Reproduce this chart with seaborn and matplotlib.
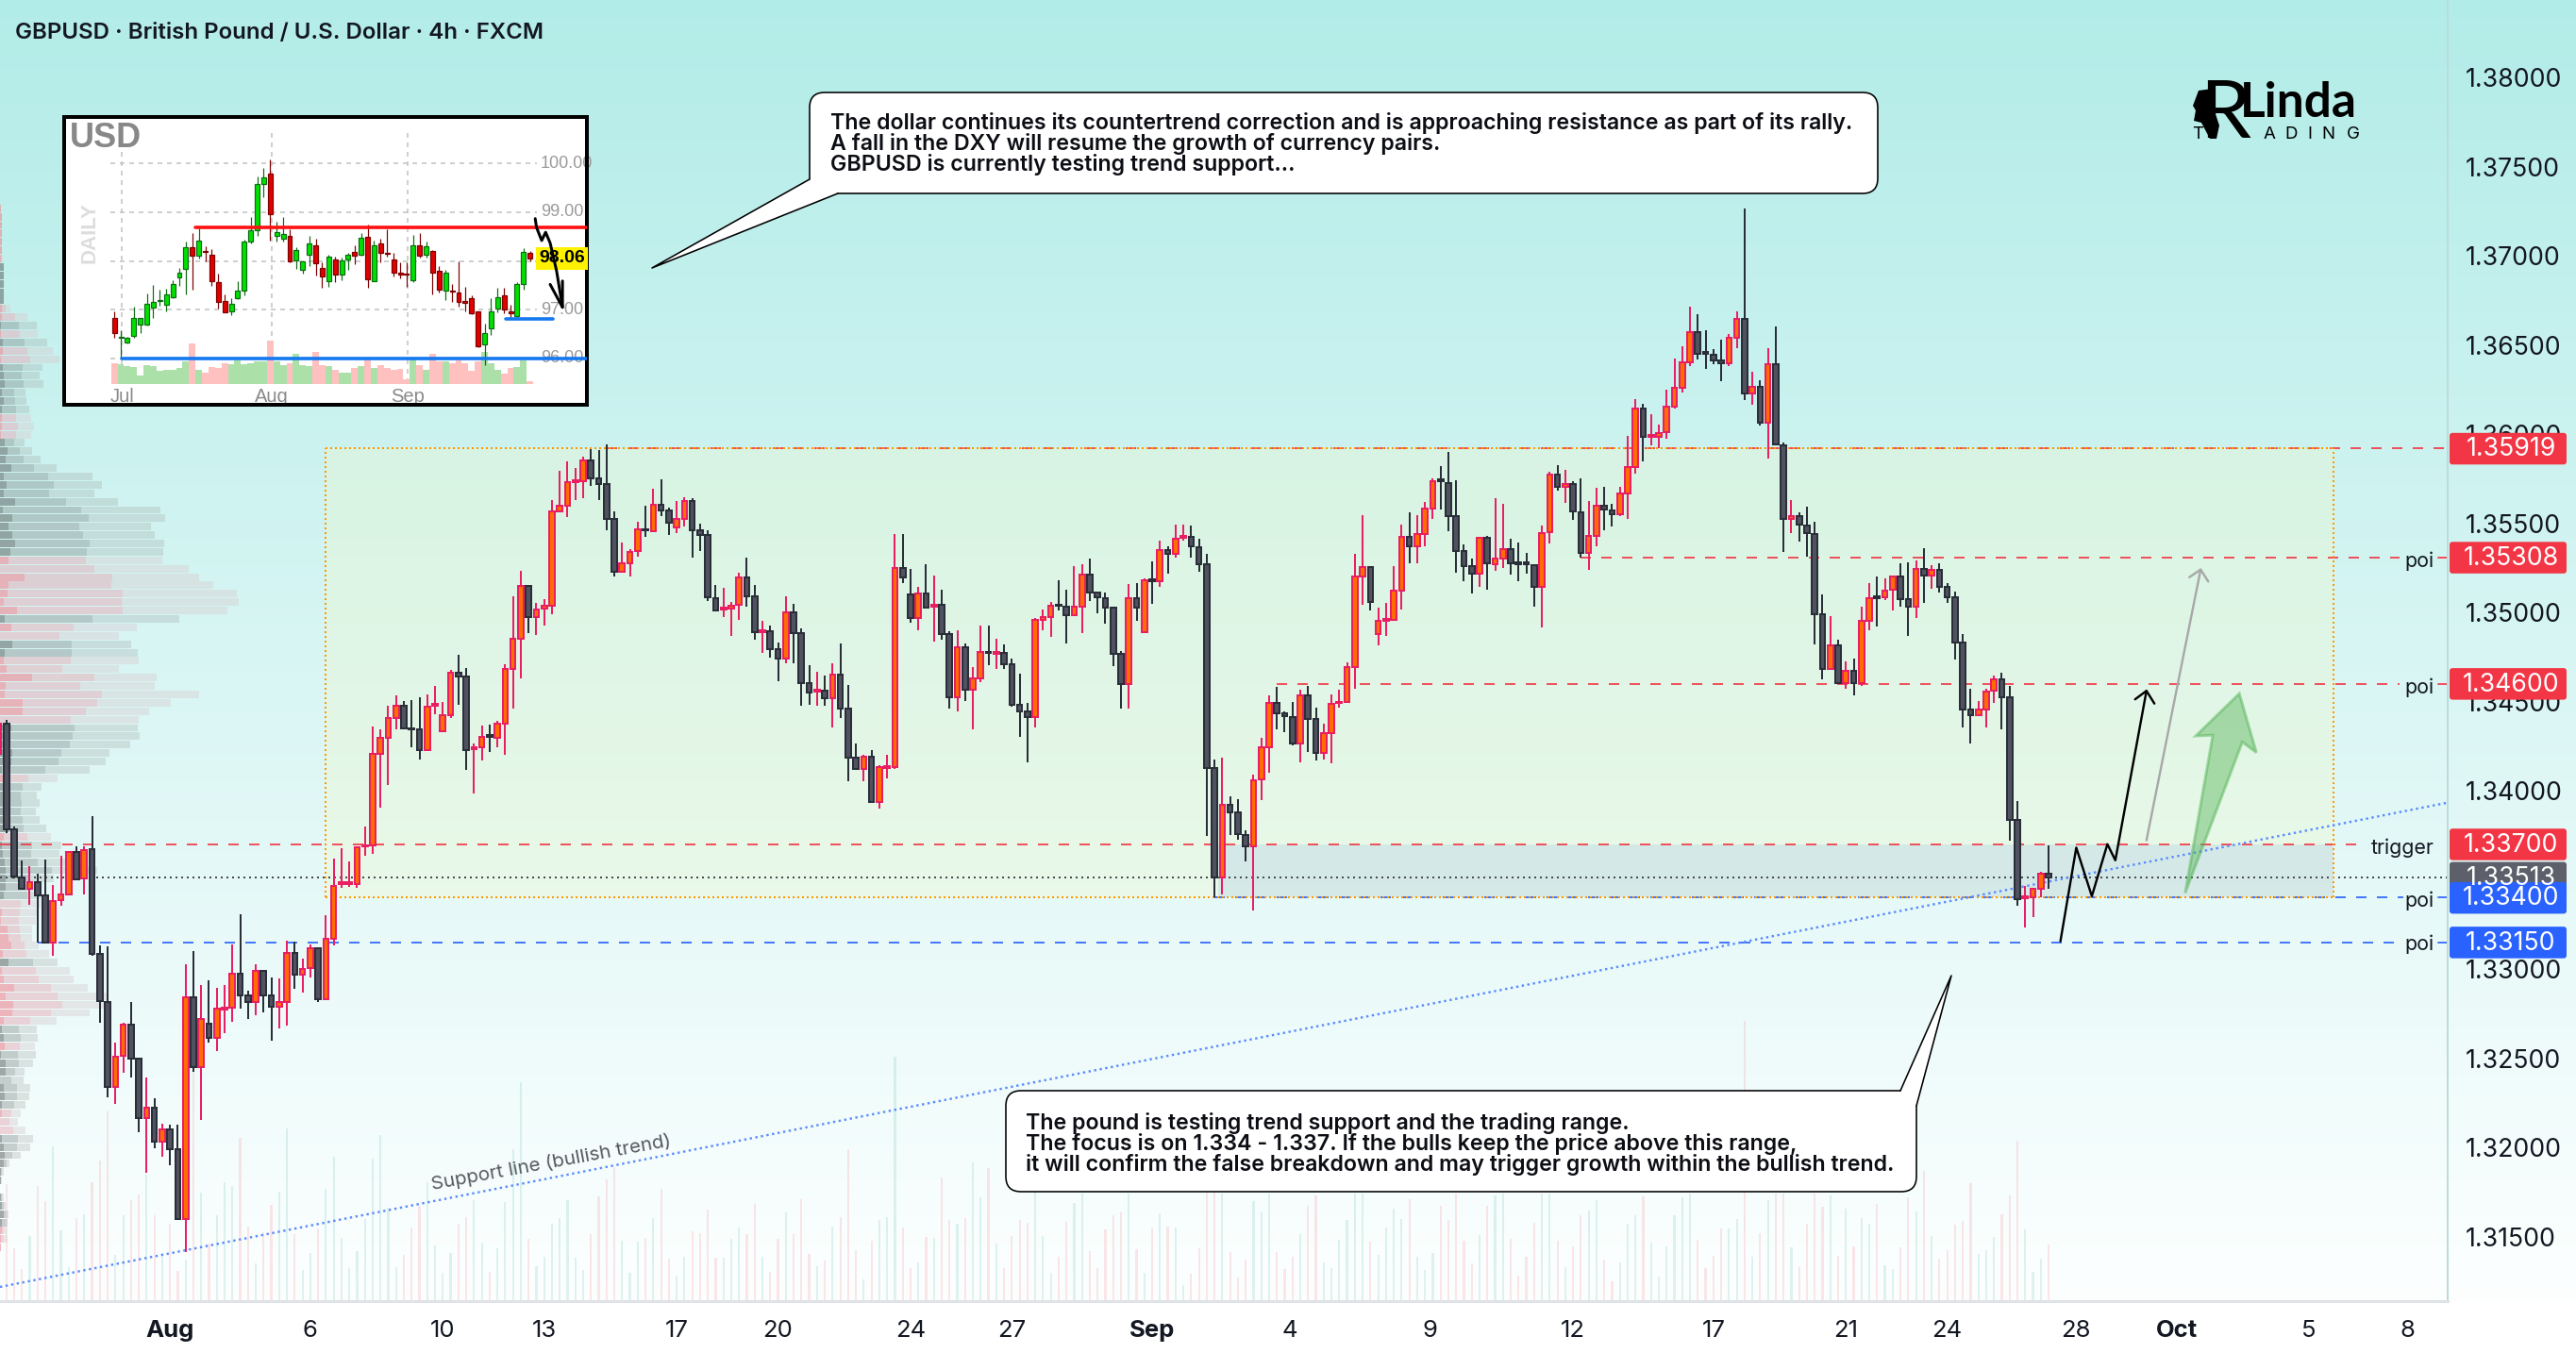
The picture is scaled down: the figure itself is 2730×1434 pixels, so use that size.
import numpy as np
import pandas as pd
import matplotlib
matplotlib.use("Agg")
import matplotlib.pyplot as plt
from matplotlib.patches import FancyBboxPatch, Polygon, Rectangle
import seaborn as sns

# ---- GBPUSD 4h candles, prices in points (1e-5), first bar index is -1 ----
opens = [
 134207,134374,133783,133515,133448,133488,133412,133150,133384,133420,
 133655,133506,133672,133083,132813,132340,132511,132687,132495,132165,
 132223,132030,132102,131990,131598,132840,132450,132692,132615,132775,
 132781,132972,132853,132817,132988,132853,132790,132817,133088,132966,
 133006,133115,132831,133170,133475,133475,133478,133687,133692,134207,
 134298,134410,134475,134350,134344,134228,134475,134335,134424,134660,
 134639,134232,134244,134310,134298,134378,134683,134850,135150,134974,
 135022,135036,135568,135598,135731,135738,135851,135750,135718,135524,
 135230,135277,135344,135468,135456,135605,135569,135474,135522,135624,
 135460,135432,135081,135015,135020,135041,135194,135088,134891,134893,
 134796,134740,134999,134882,134601,134556,134560,134519,134652,134461,
 134184,134120,134193,133935,134128,134133,135248,135099,134968,135108,
 135030,135040,134877,134523,134804,134567,134629,134780,134768,134771,
 134707,134479,134443,134412,134957,134971,135045,135033,134984,135031,
 135214,135110,135081,135026,134765,134596,135077,134889,135185,135175,
 135347,135327,135420,135421,135367,135268,134126,133514,133920,133876,
 133754,133687,134064,134244,134494,134432,134415,134264,134532,134401,
 134210,134325,134490,134497,134694,135202,135253,134878,134955,134957,
 135123,135421,135372,135441,135583,135746,135723,135540,135344,135259,
 135218,135417,135271,135303,135354,135278,135278,135263,135145,135449,
 135773,135702,135719,135561,135334,135429,135597,135571,135550,135668,
 135816,136142,135983,135986,136010,136154,136259,136403,136569,136458,
 136443,136413,136399,136541,136644,136229,136263,136065,136391,135939,
 135524,135538,135486,135439,134988,134680,134817,134605,134670,134601,
 134953,135088,135083,135125,135200,135075,135032,135243,135208,135239,
 135141,135083,134832,134455,134425,134457,134562,134623,134523,133836,
 133395,133404,133450,133534]
highs = [
 134400,134397,133801,133610,133578,133537,133614,133470,133636,133663,
 133686,133686,133859,133132,133128,132588,132700,132817,132498,132394,
 132273,132134,132129,132129,133029,133101,132912,132934,132894,132912,
 133137,133308,132880,133029,132997,132955,132948,133159,133155,133060,
 133137,133119,133303,133621,133677,133603,133690,133801,134360,134342,
 134476,134533,134505,134510,134524,134542,134589,134498,134679,134762,
 134688,134265,134365,134371,134392,134709,135092,135233,135150,135053,
 135075,135630,135794,135847,135807,135874,135918,135912,135944,135568,
 135394,135353,135508,135600,135694,135747,135585,135624,135645,135640,
 135496,135460,135154,135139,135059,135223,135307,135154,134953,134926,
 134831,135090,135048,134909,134704,134667,134647,134713,134826,134592,
 134264,134202,134228,134142,134202,135440,135440,135245,135141,135270,
 135206,135128,134895,134899,134826,134694,134926,134926,134853,134820,
 134742,134656,134492,134970,135017,135059,135181,135128,135259,135270,
 135303,135110,135112,135026,134784,135159,135164,135190,135287,135403,
 135369,135492,135492,135487,135414,135328,134173,134184,133969,133951,
 133778,134091,134297,134534,134583,134445,134498,134567,134589,134467,
 134376,134538,134568,134720,135328,135544,135261,135024,135054,135259,
 135490,135561,135544,135619,135753,135820,135901,135743,135382,135303,
 135425,135429,135638,135611,135415,135393,135334,135267,135486,135787,
 135828,135800,135733,135749,135627,135696,135702,135611,135706,135990,
 136196,136170,136113,136053,136249,136425,136494,136715,136672,136583,
 136476,136527,136559,136689,137262,136350,136304,136482,136604,135955,
 135632,135561,135595,135510,135101,134979,134848,134724,134740,135034,
 135162,135202,135192,135206,135273,135281,135293,135362,135267,135277,
 135162,135119,134876,134572,134501,134572,134645,134663,134588,133940,
 133465,133450,133547,133692]
lows = [
 134190,133760,133510,133448,133362,133150,133146,133074,133353,133416,
 133497,133416,133074,132696,132282,132242,132417,132390,132084,131859,
 131994,131949,131899,131594,131414,132422,132156,132588,132540,132642,
 132705,132777,132721,132741,132756,132597,132665,132682,132890,132867,
 132952,132813,132827,133132,133453,133460,133453,133633,133647,133907,
 134030,134342,134342,134242,134177,134224,134427,134330,134406,134480,
 134118,133986,134171,134215,134242,134203,134462,134630,134882,134872,
 134925,134992,135560,135533,135632,135639,135710,135630,135459,135203,
 135230,135200,135313,135424,135456,135538,135436,135445,135482,135308,
 135345,135066,135008,134975,134866,134959,135031,134848,134775,134744,
 134616,134716,134716,134474,134479,134474,134474,134352,134410,134055,
 134115,134055,133929,133902,134069,134124,135166,134944,134898,135026,
 134838,134844,134458,134443,134501,134346,134611,134702,134680,134683,
 134470,134304,134161,134357,134902,134860,135008,134827,134977,134886,
 135066,134997,134939,134696,134461,134461,134953,134889,135050,135144,
 135217,135308,135400,135308,135225,133747,133404,133419,133751,133723,
 133605,133328,133947,134100,134345,134328,134252,134161,134219,134170,
 134174,134153,134463,134497,134574,135044,135008,134817,134870,134951,
 135018,135277,135273,135372,135526,135575,135457,135220,135176,135105,
 135145,135125,135231,135251,135212,135176,135216,135034,134913,135388,
 135680,135615,135520,135307,135237,135372,135459,135484,135540,135526,
 135779,135844,135939,135919,135976,136142,136235,136381,136417,136367,
 136389,136294,136381,136482,136192,136162,136047,135860,135939,135338,
 135443,135399,135311,134822,134627,134676,134599,134574,134534,134589,
 134898,134919,135071,135008,135030,134866,134967,135054,135131,135109,
 135052,134734,134356,134263,134421,134352,134491,134342,133718,133357,
 133234,133292,133400,133448]
closes = [
 134374,133783,133519,133452,133488,133412,133150,133380,133416,133655,
 133502,133668,133087,132819,132340,132507,132687,132495,132165,132223,
 132030,132102,131990,131598,132840,132450,132718,132615,132777,132785,
 132972,132853,132817,132988,132853,132790,132813,133088,132966,133002,
 133115,132831,133168,133465,133485,133485,133681,133695,134205,134295,
 134406,134475,134348,134342,134228,134471,134485,134422,134660,134642,
 134228,134242,134304,134300,134374,134681,134850,135150,134974,135018,
 135035,135565,135597,135729,135740,135851,135754,135720,135524,135230,
 135274,135341,135464,135460,135605,135574,135505,135522,135624,135460,
 135432,135084,135013,135025,135039,135194,135088,134888,134900,134796,
 134740,134999,134882,134601,134552,134566,134516,134652,134461,134184,
 134120,134193,133935,134130,134138,135248,135195,134968,135108,135026,
 135040,134877,134523,134804,134567,134629,134780,134771,134778,134707,
 134481,134443,134412,134957,134971,135039,135037,134984,135030,135214,
 135110,135084,135026,134765,134596,135077,135026,135179,135175,135347,
 135327,135412,135430,135368,135268,134126,133514,133920,133878,133758,
 133687,134060,134241,134494,134432,134417,134264,134532,134401,134212,
 134325,134487,134500,134694,135202,135253,135058,134953,134965,135121,
 135423,135372,135437,135581,135733,135736,135540,135344,135261,135218,
 135417,135273,135299,135354,135273,135268,135268,135145,135445,135773,
 135702,135719,135565,135334,135429,135597,135575,135550,135666,135814,
 136142,135986,135993,136006,136152,136257,136401,136569,136452,136448,
 136413,136399,136539,136644,136229,136263,136065,136391,135943,135524,
 135540,135490,135443,134990,134680,134817,134605,134670,134601,134951,
 135077,135078,135121,135200,135075,135032,135243,135208,135239,135141,
 135085,134832,134457,134425,134455,134558,134623,134524,133836,133393,
 133405,133448,133534,133513]
volumes = [
 0,372,167,102,207,367,319,492,224,107,264,277,379,447,602,147,274,322,340,402,
 272,152,247,97,132,732,345,182,274,379,367,520,238,120,220,307,349,550,212,100,
 154,230,358,460,202,106,160,262,454,529,297,108,147,234,304,377,177,89,154,247,
 267,322,187,92,168,314,482,697,199,112,142,247,265,322,139,100,214,334,387,427,
 192,90,190,202,265,357,135,82,142,222,217,292,139,139,199,234,212,310,142,94,
 197,282,214,325,150,112,130,237,267,482,162,70,192,259,267,777,234,104,124,204,
 200,392,257,245,264,442,330,422,184,104,207,258,250,352,207,89,142,252,312,342,
 160,104,227,272,282,342,165,90,234,280,237,235,52,87,167,352,352,342,157,76,
 132,317,282,342,157,102,142,214,302,337,124,106,195,258,342,342,190,147,234,294,
 262,325,142,99,154,302,257,342,192,120,211,304,337,342,197,82,142,250,342,342,
 192,109,175,272,289,322,132,64,124,247,272,332,187,79,175,274,329,342,196,105,
 144,232,232,262,892,142,217,322,342,342,170,112,247,342,299,337,145,294,175,264,
 247,310,115,102,172,329,284,414,207,136,162,242,254,375,150,162,204,277,337,509,
 227,94,136,180]

# ---- Volume profile rows, top to bottom ----
profile_side = ("pppppp" "pggggg" "ppgpgppggggggppp" "gggggggggggggg" "pppppppgpp" "gg" "ppppppp"
                "p" "gggggg" "p" "gggggg" "p" "ggggggg" "ppppppp" "g" "ppppppp" "gg" "p"
                "ggggggg" "ppp" "ggggggggggg" "ppp")
profile_dark = [
 3,6,6,6,6,6, 3,12,12,12,12,12, 6,6,3,3,9,9,3,9,12,15,6,12,6,6,6,3,15,24,18,36,12,21,12,48,9,39,27,39,48,33,
 27,0,78,27,24,12,54,15,36,0,39,15,12,21,102,18,15,72,72,
 0,36,33,30,39,36,6,33,12,27,27,21,24,27,12,6,9,15,18,18,18,12,0,6,3,24,27,36,9,27,6,12,45,18,42,39,12,
 6,12,15,3,18,18,0,12,15,6,6,0,0,6,12,15,12,3,3,0,3,6,12,6,6,3,3]
profile_mid = [
 3,6,6,6,6,6, 6,12,12,12,12,12, 18,48,60,63,78,87,96,72,69,75,45,48,51,51,57,51,45,63,75,108,153,171,156,210,258,282,252,264,285,276,
 273,300,357,354,390,387,390,294,234,189,228,228,225,198,300,255,324,309,273,
 225,237,231,222,195,186,144,90,72,66,69,66,72,75,87,102,99,120,165,90,90,87,66,63,60,63,66,78,84,105,114,123,162,183,198,162,96,
 60,66,63,57,60,48,36,54,54,45,36,30,42,57,54,39,21,6,3,0,6,12,18,18,12,12,3]
profile_total = [
 3,6,6,6,6,6, 9,12,12,12,12,12, 33,87,117,120,150,168,189,135,126,138,81,84,93,99,108,99,78,102,129,180,294,324,300,375,510,525,480,492,522,519,
 516,600,633,678,753,759,723,570,435,378,417,438,441,378,498,492,633,543,474,
 441,438,444,414,348,336,285,183,132,117,126,114,126,147,162,195,189,207,309,170,130,130,130,120,115,102,102,123,156,183,222,234,279,345,345,285,180,
 117,120,111,114,105,78,75,96,93,81,66,57,81,105,96,66,30,12,6,0,12,18,27,24,21,24,3]

# ---- Horizontal levels: price, first bar, last bar, colour ----
level_prices = [1.35919, 1.35308, 1.34600, 1.33700, 1.33400, 1.33150]
level_starts = [77, 202, 163, -0.8, 155, 4]
level_ends = [313.2, 307, 307, 301.4, 307.5, 306.5]
level_colors = ["#f23645", "#f23645", "#f23645", "#f23645", "#2962ff", "#2962ff"]
last_price = 1.33513

price_ticks = [1.38, 1.375, 1.37, 1.365, 1.36, 1.355, 1.35, 1.345, 1.34, 1.335, 1.33, 1.325, 1.32, 1.315]
date_ticks = [21, 39, 56, 69, 86, 99, 116, 129, 147, 164.7, 182.6, 201, 219, 236, 249, 265.5, 278.5, 295.4, 308]
date_labels = ["Aug", "6", "10", "13", "17", "20", "24", "27", "Sep", "4", "9", "12", "17", "21", "24", "28", "Oct", "5", "8"]

# ---- DXY daily inset ----
usd_open = [96.83,96.43,96.32,96.47,96.70,96.69,97.05,97.18,97.10,97.26,97.67,97.83,98.29,98.10,98.20,98.13,97.56,97.18,96.96,97.23,
            97.39,98.39,98.63,99.59,99.79,98.52,98.45,98.52,98.02,97.82,98.12,98.32,97.86,97.59,98.03,97.73,98.03,98.19,98.12,98.50,
            97.59,98.36,98.17,98.03,97.77,97.74,97.61,98.32,98.12,98.21,97.79,97.39,97.40,97.36,97.17,97.23,96.96,96.29,96.61,97.02,
            97.29,96.96,96.87,97.53,98.16]
usd_high = [96.97,96.57,96.45,97.07,96.83,97.34,97.50,97.42,97.43,97.61,97.85,98.40,98.58,98.68,98.30,98.24,97.74,97.32,97.23,97.58,
            98.43,98.90,99.74,99.90,100.08,98.81,98.90,98.65,98.29,98.00,98.52,98.46,97.97,98.13,98.08,98.07,98.16,98.32,98.58,98.74,
            98.42,98.45,98.65,98.16,97.97,97.97,98.54,98.57,98.40,98.23,97.90,97.81,97.52,98.00,97.47,97.30,96.97,96.71,97.24,97.45,
            97.45,97.10,97.56,98.27,98.21]
usd_low = [96.42,96.00,96.31,96.42,96.52,96.68,96.84,97.08,96.96,97.24,97.48,97.31,97.41,98.06,98.00,97.48,97.03,96.94,96.88,97.21,
           97.29,98.36,98.52,99.30,98.42,98.39,98.40,97.97,97.84,97.74,97.90,97.71,97.45,97.47,97.57,97.60,97.81,97.94,98.10,97.45,
           97.58,97.98,98.08,97.68,97.65,97.47,97.57,98.07,98.07,97.32,97.36,97.19,97.16,97.07,96.97,96.90,96.23,95.86,96.48,96.94,
           96.92,96.84,96.84,97.42,98.00]
usd_close = [96.52,96.45,96.42,96.83,96.83,97.13,97.16,97.20,97.32,97.52,97.76,98.29,98.10,98.42,98.18,97.58,97.16,96.95,97.13,97.39,
             98.39,98.63,99.58,99.72,98.96,98.59,98.56,97.99,98.23,97.99,98.36,97.95,97.69,98.08,97.73,98.02,98.13,98.10,98.48,97.63,
             98.32,98.16,98.15,97.76,97.72,97.72,98.32,98.10,98.30,97.76,97.41,97.76,97.38,97.16,97.15,96.92,96.25,96.52,96.96,97.26,
             97.00,96.93,97.53,98.19,98.06]
usd_volume = [65,62,55,52,25,60,55,40,43,43,50,70,127,45,35,52,50,65,62,75,
              63,65,72,70,137,70,60,65,95,58,55,102,60,55,43,35,35,50,55,82,
              50,60,50,45,48,15,82,60,43,95,70,70,65,75,65,40,70,100,65,43,
              33,50,52,75,8]
usd_ticks = [100, 99, 98, 97, 96]
usd_month_bars = [1.2, 24.2, 45.2]
usd_month_labels = ["Jul", "Aug", "Sep"]
usd_resistance = 98.69
usd_support = 96.0
usd_minor_support = 96.82

W, H = 2730, 1434
PLOT_RIGHT, PLOT_BOTTOM = 2594, 1379
PX = 0.72  # one output pixel in points at 100 dpi

sns.set_theme(style="white")
plt.rcParams["font.family"] = ["Inter", "DejaVu Sans"]
plt.rcParams["lines.scale_dashes"] = False
plt.rcParams["lines.dash_capstyle"] = "butt"

INK = "#131722"
fig = plt.figure(figsize=(W / 100, H / 100), dpi=100, facecolor="white")


def rect_of(x0, y0, x1, y1):
    return [x0 / W, 1 - y1 / H, (x1 - x0) / W, (y1 - y0) / H]


# Page background: pale teal fading to white over the chart pane
bg_ax = fig.add_axes([0, 0, 1, 1], zorder=0)
top_c, bot_c = np.array([178, 236, 232]), np.array([253, 255, 255])
rows = np.ones((H, 1, 3))
t = np.clip(np.arange(H) / PLOT_BOTTOM, 0, 1)[:, None]
rows[:, 0, :] = (top_c + (bot_c - top_c) * t) / 255
rows[PLOT_BOTTOM:, 0, :] = 1
bg_ax.imshow(rows, aspect="auto", extent=(0, W, H, 0))
bg_ax.axis("off")

xlim = (-0.811, 313.2)
ylim = (1.311376, 1.384339)
pane = rect_of(0, 0, PLOT_RIGHT, PLOT_BOTTOM)

bars = np.arange(-1, len(closes) - 1)
o, h, l, c = [np.array(a) / 1e5 for a in (opens, highs, lows, closes)]
rising = c >= o

# Volume histogram along the floor of the pane
vol_ax = fig.add_axes(pane, zorder=1, facecolor="none")
vol_df = pd.DataFrame({"bar": bars, "volume": volumes,
                       "side": np.where(rising, "up", "down")})
sns.barplot(data=vol_df, x="bar", y="volume", hue="side", hue_order=["up", "down"],
            palette={"up": "#089981", "down": "#f23645"}, native_scale=True, dodge=False,
            width=0.26, saturation=1, alpha=0.12, linewidth=0, legend=False, ax=vol_ax)
vol_ax.set_xlim(*xlim)
vol_ax.set_ylim(0, PLOT_BOTTOM * 3)
vol_ax.axis("off")

# Visible-range volume profile on the left edge
prof_ax = fig.add_axes(pane, zorder=2, facecolor="none")
row_price = 1.37266 - np.arange(len(profile_total)) * 0.00047
side = np.array(list(profile_side))[:len(profile_total)]
tones = {"g": [("#687270", .6), ("#848e8c", .42), ("#a0a39e", .27)],
         "p": [("#ee8f9a", .65), ("#e5b2bc", .55), ("#d9cfd2", .45)]}
d_, m_, t_ = map(np.array, (profile_dark, profile_mid, profile_total))
for key in ("g", "p"):
    mask = side == key
    (c1, a1), (c2, a2), (c3, a3) = tones[key]
    prof_ax.barh(row_price[mask], d_[mask], height=0.00042, color=c1, alpha=a1, linewidth=0)
    prof_ax.barh(row_price[mask], m_[mask] - d_[mask], left=d_[mask], height=0.00042, color=c2, alpha=a2, linewidth=0)
    prof_ax.barh(row_price[mask], t_[mask] - m_[mask], left=m_[mask], height=0.00042, color=c3, alpha=a3, linewidth=0)
prof_ax.set_xlim(0, PLOT_RIGHT * 3)
prof_ax.set_ylim(*ylim)
prof_ax.axis("off")

# Main price pane
ax = fig.add_axes(pane, zorder=3, facecolor="none")
ax.set_xlim(*xlim)
ax.set_ylim(*ylim)

box_left, box_right = 40.9, 298.5
ax.add_patch(Rectangle((box_left, 1.334), box_right - box_left, 1.35919 - 1.334,
                       facecolor=(244/255, 248/255, 198/255, .3), edgecolor="none", zorder=1))
ax.add_patch(Rectangle((155.5, 1.334), box_right - 155.5, 0.003,
                       facecolor=(167/255, 200/255, 230/255, .3), edgecolor="none", zorder=1.1))

for p, x0, x1, col in zip(level_prices, level_starts, level_ends, level_colors):
    ax.plot([x0, x1], [p, p], color=col, alpha=.85, lw=2 * PX,
            ls=(0, (11 * PX, 11 * PX)), zorder=2)
    if 305 < x1 < 309:
        ax.plot([312, 313.2], [p, p], color=col, alpha=.85, lw=2 * PX, zorder=2)
ax.plot(xlim, [last_price, last_price], color="#4a4a50", lw=2 * PX,
        ls=(0, (2 * PX, 4 * PX)), zorder=2)

orange_dots = (0, (2 * PX, 3 * PX))
for xs, ys in (([box_left, box_right], [1.35919, 1.35919]), ([box_left, box_right], [1.334, 1.334]),
               ([box_left, box_left], [1.334, 1.35919]), ([box_right, box_right], [1.334, 1.35919])):
    ax.plot(xs, ys, color="#ff9800", lw=2 * PX, ls=orange_dots, zorder=2.1)

# Rising support line
ax.plot(xlim, [1.31217, 1.33933], color="#5b8cff", lw=2.4 * PX, ls=(0, (2.4 * PX, 3.6 * PX)), zorder=2.2)

for mask, edge, fill in ((rising, "#e91e63", "#ff6d00"), (~rising, "#2a2e39", "#50535f")):
    ax.vlines(bars[mask], l[mask], h[mask], color=edge, lw=2 * PX, zorder=3)
    ax.bar(bars[mask], (c - o)[mask], bottom=o[mask], width=0.68, color=fill,
           edgecolor=edge, linewidth=2 * PX, zorder=4)

ax.yaxis.tick_right()
ax.set_yticks(price_ticks)
ax.set_yticklabels([f"{p:.5f}" for p in price_ticks])
ax.set_xticks(date_ticks)
ax.set_xticklabels(date_labels)
ax.tick_params(axis="y", length=0, labelsize=19.2, pad=13.5, labelcolor=INK)
ax.tick_params(axis="x", length=0, labelsize=18.5, pad=14.5, labelcolor=INK)
for lab in ax.get_xticklabels():
    if lab.get_text() in ("Aug", "Sep", "Oct"):
        lab.set_fontweight("bold")
for name, spine in ax.spines.items():
    spine.set_visible(name in ("right", "bottom"))
ax.spines["right"].set_color("#bcdcd9")
ax.spines["right"].set_linewidth(2 * PX)
ax.spines["bottom"].set_color("#dfe2e6")
ax.spines["bottom"].set_linewidth(3 * PX)

# Overlay in output pixels for drawings, notes and price tags
ov = fig.add_axes([0, 0, 1, 1], zorder=4, facecolor="none")
ov.set_xlim(0, W)
ov.set_ylim(H, 0)
ov.axis("off")


def price_y(price):
    return H - ax.transData.transform((0, price))[1]


ov.text(16, 35, "GBPUSD · British Pound / U.S. Dollar · 4h · FXCM", fontsize=17.3,
        fontweight=600, color=INK, va="center", ha="left")

tag_text = ["1.35919", "1.35308", "1.34600", "1.33700", "1.33513", "1.33400", "1.33150"]
tag_vals = [1.35919, 1.35308, 1.34600, 1.33700, 1.33513, 1.33400, 1.33150]
tag_cols = ["#f23645", "#f23645", "#f23645", "#f23645", "#5d606b", "#2962ff", "#2962ff"]
for txt, val, col in zip(tag_text, tag_vals, tag_cols):
    y = price_y(val)
    ov.add_patch(FancyBboxPatch((2596, y - 16.5), 124, 33.5, boxstyle="round,pad=0,rounding_size=3",
                                facecolor=col, edgecolor="none", zorder=5))
    ov.text(2661, y + 1, txt, color="white", fontsize=19.2, ha="center", va="center", zorder=6)

for txt, val, off in (("poi", 1.35308, 4), ("poi", 1.346, 4), ("trigger", 1.337, 4),
                      ("poi", 1.334, 3), ("poi", 1.3315, 2)):
    ov.text(2580, price_y(val) + off, txt, fontsize=15.4, color=INK, ha="right", va="center")

ov.text(584, 1232, "Support line (bullish trend)", fontsize=14.8, color="#555a60", rotation=10.4,
        rotation_mode="anchor", ha="center", va="center")

# Projected path and arrows
ov.plot([2183.6, 2200.4, 2216.9, 2233.4, 2241.8, 2274.8], [997.6, 898.4, 949.8, 894.7, 911.8, 732.2],
        color="black", lw=2.4 * PX)
ov.plot([2262.7, 2274.8, 2283.2], [741.2, 732.2, 745.7], color="black", lw=2.4 * PX)
ov.plot([2274.8, 2332.2], [890.6, 603.7], color="#a8a8a8", lw=2.4 * PX)
ov.plot([2320.2, 2332.2, 2340.3], [611.8, 603.7, 616.3], color="#a8a8a8", lw=2.4 * PX)
ov.add_patch(Polygon([(2315.8, 946.5), (2345.1, 779.2), (2327, 780), (2373.2, 735.1), (2391.3, 797.6), (2376.4, 786.5)],
                     closed=True, facecolor=(0.30, 0.69, 0.31, .42), edgecolor=(0.30, 0.69, 0.31, .45), lw=3 * PX))


def callout(x0, y0, x1, y1, tip, base_a, base_b, lines, tx, ty, dy):
    ov.add_patch(FancyBboxPatch((x0, y0), x1 - x0, y1 - y0, boxstyle="round,pad=0,rounding_size=16",
                                facecolor="white", edgecolor="black", lw=1.6 * PX, zorder=7))
    ov.add_patch(Polygon([base_a, tip, base_b], closed=True, facecolor="white", edgecolor="none", zorder=7.1))
    ov.plot([base_a[0], tip[0], base_b[0]], [base_a[1], tip[1], base_b[1]], color="black", lw=1.6 * PX, zorder=7.2)
    for i, line in enumerate(lines):
        ov.text(tx, ty + i * dy, line, fontsize=16.7, fontweight=600, color="#0c0e14", va="center", zorder=8)


callout(858, 98, 1990, 205, (691, 284), (888, 205), (858, 190),
        ["The dollar continues its countertrend correction and is approaching resistance as part of its rally.",
         "A fall in the DXY will resume the growth of currency pairs.",
         "GBPUSD is currently testing trend support..."], 880, 131, 21.6)
callout(1066, 1156, 2031, 1263, (2068, 1034), (2014, 1156), (2031, 1172),
        ["The pound is testing trend support and the trading range.",
         "The focus is on 1.334 - 1.337. If the bulls keep the price above this range,",
         "it will confirm the false breakdown and may trigger growth within the bullish trend."], 1087, 1190, 22.3)

# Brand mark
ov.text(2331, 146, "R", fontsize=62, color="black", ha="left", va="baseline", family="Lato")
ov.text(2374, 124, "Linda", fontsize=37, fontweight="bold", color="black", ha="left", va="baseline", family="Lato")
ov.add_patch(Polygon([(2330, 96), (2324, 112), (2327, 117), (2325, 128), (2333, 130), (2342, 147),
                      (2349, 147), (2352, 133), (2345, 112), (2345, 94)], closed=True, facecolor="black", edgecolor="none"))
for letter, lx in zip("TADING", (2323, 2399, 2421, 2445, 2460, 2487)):
    ov.text(lx, 147, letter, fontsize=13.5, color="black", ha="left", va="baseline")

# Daily dollar-index inset
ins = fig.add_axes(rect_of(68, 124, 622, 429), zorder=5, facecolor="white")
ins.set_xlim(-7.72, 72.76)
ins.set_ylim(95.05, 100.955)
for s in ins.spines.values():
    s.set_color("black")
    s.set_linewidth(4 * PX)
ins.set_xticks([])
ins.set_yticks([])
grid_kw = dict(color="#c4c4c4", lw=1.6 * PX, ls=(0, (5 * PX, 5 * PX)), zorder=1)
for val in usd_ticks:
    ins.plot([-0.6, 65], [val, val], **grid_kw)
    ins.text(65.6, val, f"{val:.2f}", fontsize=13, color="#9a9a9a", va="center", ha="left",
             family=["Liberation Sans Narrow", "Liberation Sans"], zorder=2)
for bar, name in zip(usd_month_bars, usd_month_labels):
    ins.plot([bar, bar], [95.5, 100.66], **grid_kw)
    ins.text(bar, 95.22, name, fontsize=14.5, color="#8a8a8a", ha="center", va="center",
             family=["Liberation Sans Narrow", "Liberation Sans"], zorder=2)

ux = np.arange(len(usd_close))
uo, uh, ul, uc = map(np.array, (usd_open, usd_high, usd_low, usd_close))
up = uc >= uo
ins.bar(ux, np.array(usd_volume) * 0.00645, bottom=95.485, width=1.0,
        color=np.where(up, "#abe0a8", "#ffc0c0"), linewidth=0, zorder=1.5)
for mask, edge, fill in ((up, "#0b6b12", "#00e000"), (~up, "#7c0000", "#e00000")):
    ins.vlines(ux[mask], ul[mask], uh[mask], color=edge, lw=1.2 * PX, zorder=3)
    ins.bar(ux[mask], (uc - uo)[mask], bottom=uo[mask], width=0.72, color=fill,
            edgecolor=edge, linewidth=1.2 * PX, zorder=4)
ins.plot([12.4, 72.76], [usd_resistance, usd_resistance], color="#ff1010", lw=3.6 * PX, zorder=5, solid_capstyle="round")
ins.plot([1.2, 72.76], [usd_support, usd_support], color="#1478f0", lw=3.6 * PX, zorder=5)
ins.plot([60.3, 67.6], [usd_minor_support, usd_minor_support], color="#1478f0", lw=3.6 * PX, zorder=5, solid_capstyle="round")

ins.text(68.9, usd_close[-1], f"{usd_close[-1]:.2f}", fontsize=14, fontweight="bold",
         color="black", ha="center", va="center", family=["Liberation Sans Narrow", "Liberation Sans"], zorder=6,
         bbox=dict(boxstyle="square,pad=0.18", facecolor="#fff200", edgecolor="none"))
ins.text(-6.9, 100.52, "USD", fontsize=26, fontweight="bold", color="#888888", ha="left", va="center",
         family=["Liberation Sans Narrow", "Liberation Sans"], zorder=6)
ins.text(-3.85, 98.58, "DAILY", fontsize=16, fontweight="bold", color="#dddddd", rotation=90, ha="center", va="center",
         family="Liberation Sans", zorder=2)

# Hand-drawn downward arrow on the inset
inset_arrow_x = [64.8, 65.0, 65.8, 66.4, 67.1, 68.1, 69.0]
inset_arrow_y = [98.87, 98.69, 98.42, 98.59, 98.37, 97.79, 97.05]
ins.plot(inset_arrow_x, inset_arrow_y, color="black", lw=3 * PX, zorder=7)
ins.plot([67.1, 69.0, 69.0], [97.52, 97.05, 97.59], color="black", lw=3 * PX, zorder=7)

fig.savefig("out.png", dpi=100)
